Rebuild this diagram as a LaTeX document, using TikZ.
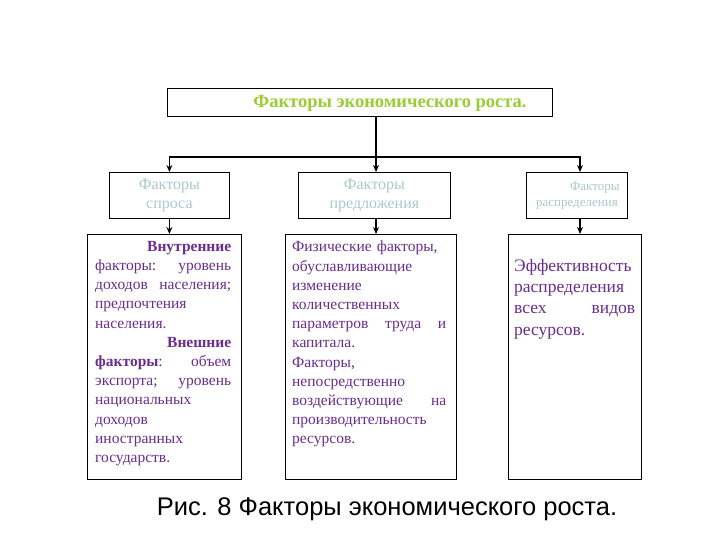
\documentclass[tikz,border=0pt]{standalone}
\usepackage{fontspec}
\setmainfont{Liberation Serif}
\newfontfamily\capfont{Liberation Sans}
\usetikzlibrary{arrows.meta}
\definecolor{ttl}{HTML}{9ACD32}
\definecolor{hdr}{HTML}{A9C9CC}
\definecolor{body}{HTML}{6B2C8F}
\newcommand{\jl}[2]{\leavevmode\hbox to \linewidth{#1\hfill #2}}
\begin{document}
\begin{tikzpicture}[x=1pt,y=-1pt,
  boxx/.style={draw=black,line width=0.8pt,fill=white},
  txt/.style={anchor=north west,inner sep=0pt,align=left,text=body,font=\fontsize{15.5}{19.2}\selectfont},
  con/.style={line width=1.3pt,-{Stealth[length=7pt,width=6pt]}}]
\useasboundingbox (0,0) rectangle (720,540);
\node[boxx,minimum width=385,minimum height=28,anchor=north west] (top) at (167,88) {};
\node[text=ttl,font=\bfseries\fontsize{18.5}{20}\selectfont] (toptxt) at (390,103) {Факторы экономического роста.};
\node[boxx,minimum width=120,minimum height=46,anchor=north west] (h1) at (109,172) {};
\node[boxx,minimum width=152,minimum height=46,anchor=north west] (h2) at (298,172) {};
\node[boxx,minimum width=101,minimum height=46,anchor=north west] (h3) at (526,172) {};
\node[text=hdr,align=center,font=\fontsize{16}{19}\selectfont] (h1t) at (h1) {Факторы\\спроса};
\node[text=hdr,align=center,font=\fontsize{16}{19}\selectfont] (h2t) at (h2) {Факторы\\предложения};
\node[text=hdr,align=center,font=\fontsize{13}{16}\selectfont] (h3t) at (h3) {\hspace*{36pt}Факторы\\распределения};
\node[boxx,minimum width=154,minimum height=245,anchor=north west] (b1) at (87,234) {};
\node[boxx,minimum width=171,minimum height=245,anchor=north west] (b2) at (285,234) {};
\node[boxx,minimum width=133,minimum height=245,anchor=north west] (b3) at (508,234) {};
\node[txt,text width=136] (t1) at (95,241) {\hfill\textbf{Внутренние}\\
\jl{факторы:}{уровень}\\
\jl{доходов}{населения;}\\
предпочтения\\
населения.\\
\hfill\textbf{Внешние}\\
\jl{\textbf{факторы}:}{объем}\\
\jl{экспорта;}{уровень}\\
национальных\\
доходов\\
иностранных\\
государств.};
\node[txt,text width=154] (t2) at (292,241) {Физические факторы,\\
обуславливающие\\
изменение\\
количественных\\
\jl{параметров\hfill труда}{и}\\
капитала.\\
Факторы,\\
непосредственно\\
\jl{воздействующие}{на}\\
производительность\\
ресурсов.};
\node[txt,text width=121,font=\fontsize{17.5}{21.3}\selectfont] (t3) at (514,259) {Эффективность\\
распределения\\
\jl{всех}{видов}\\
ресурсов.};
\node[font=\capfont\fontsize{25.5}{28}\selectfont] (cap) at (387,509) {Рис. 8 Факторы экономического роста.};
\coordinate (j) at (376,157);
\draw[line width=1.3pt] (top.south -| j) -- (j);
\draw[con] (j) -- (h2.north -| j);
\draw[con] (j) -| (h1.north);
\draw[con] (j) -| (580,172);
\draw[con] (h1.south) -- (h1.south |- b1.north);
\draw[con] (h2.south -| j) -- (b2.north -| j);
\draw[con] (580,218) -- (580,234);
\end{tikzpicture}
\end{document}
